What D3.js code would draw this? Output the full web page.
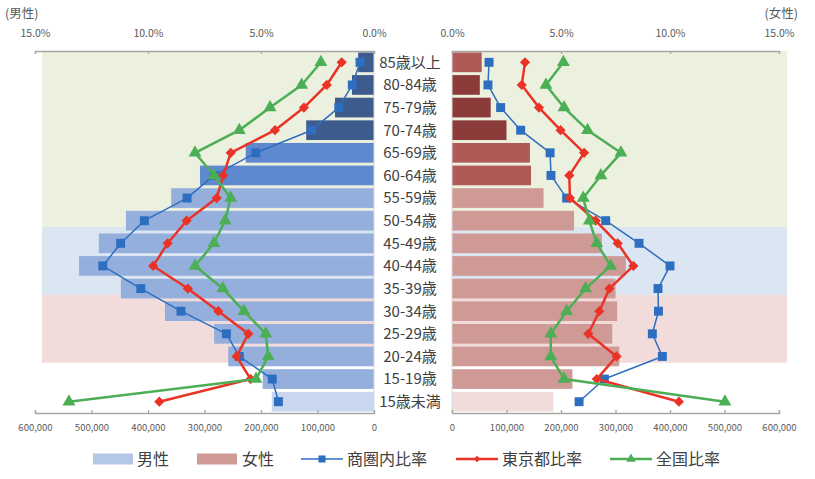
<!DOCTYPE html>
<html>
<head>
<meta charset="utf-8">
<script src="https://cdn.jsdelivr.net/npm/d3@7"></script>
<style>
html,body{margin:0;padding:0;background:#fff;}
svg{display:block;font-family:"Noto Sans CJK JP","Noto Sans",sans-serif;}
</style>
</head>
<body>
<svg id="chart" width="815" height="479"></svg>
<script>
// ---------- data ----------
const categories = ["85歳以上","80-84歳","75-79歳","70-74歳","65-69歳","60-64歳","55-59歳","50-54歳","45-49歳","40-44歳","35-39歳","30-34歳","25-29歳","20-24歳","15-19歳","15歳未満"];
const malePop   = [28000,39000,69000,120000,227000,308000,359000,439000,487000,522000,448000,370000,283000,258000,197000,181000];
const femalePop = [54500,51000,71000,100000,143000,145000,168000,224000,275000,319000,300000,303000,294000,307000,221000,186000];
const maleArea    = [0.62,0.96,1.56,2.76,5.23,7.08,8.27,10.16,11.21,12.0,10.32,8.54,6.53,5.96,4.50,4.23];
const maleTokyo   = [1.43,2.09,3.10,4.38,6.34,6.67,6.96,8.29,9.13,9.77,8.24,6.89,5.56,6.08,5.46,9.50];
const maleJapan   = [2.35,3.20,4.60,5.96,7.92,7.08,6.34,6.59,7.08,7.92,6.69,5.75,4.79,4.68,5.22,13.50];
const femaleArea  = [1.70,1.65,2.23,3.15,4.50,4.54,5.26,7.05,8.58,10.00,9.45,9.47,9.19,9.65,6.99,5.83];
const femaleTokyo = [3.35,3.20,3.99,4.98,6.06,5.38,5.41,6.59,7.60,8.32,7.22,6.76,6.25,7.55,6.64,10.41];
const femaleJapan = [5.11,4.31,5.14,6.22,7.75,6.83,6.02,6.30,6.64,7.28,6.13,5.26,4.53,4.53,5.14,12.52];
const pctTicks = [0,5,10,15];
const popTicks = [0,100000,200000,300000,400000,500000,600000];
const legendLabels = ["男性","女性","商圏内比率","東京都比率","全国比率"];
// background zones: [first category, last category]
const zones = [["85歳以上","50-54歳"],["45-49歳","35-39歳"],["30-34歳","20-24歳"]];

// ---------- styles ----------
const zoneColors = ["#EBF1DE","#DCE6F2","#F2DCDB"];
const maleColor = i => i<=3 ? "#3E5B8E" : i<=5 ? "#5F89CE" : i<=14 ? "#94AFDC" : "#C9D6EE";
const femaleColor = i => i===0 ? "#B05A56" : i<=3 ? "#8B3B3A" : i<=5 ? "#B05A56" : i<=14 ? "#CF9A96" : "#EFDCDB";
const cArea="#2E6EC0", cTokyo="#EA3326", cJapan="#4CAF56";
const axisGray="#A6A6A6", textGray="#595959", labelColor="#404040";

const svg = d3.select("#chart");
const yTop=51, yBot=413;
const y = d3.scaleBand().domain(categories).range([yTop,yBot]).paddingInner(0.13).paddingOuter(0.065);
const yStep = (yBot-yTop)/categories.length;

const xPopL = d3.scaleLinear().domain([0,600000]).range([374,35]);
const xPctL = d3.scaleLinear().domain([0,15]).range([374,35]);
const xPopR = d3.scaleLinear().domain([0,600000]).range([452,779]);
const xPctR = d3.scaleLinear().domain([0,15]).range([452,779]);

// backgrounds
const defs = svg.append("defs");
defs.append("clipPath").attr("id","clipL").append("rect").attr("x",42).attr("y",yTop).attr("width",374-42).attr("height",yBot-yTop);
defs.append("clipPath").attr("id","clipR").append("rect").attr("x",452).attr("y",yTop).attr("width",787-452).attr("height",yBot-yTop);
const zoneShift = -5;
function zoneRects(g){
  zones.forEach((z,k)=>{
    const i0=categories.indexOf(z[0]), i1=categories.indexOf(z[1]);
    const y0 = yTop + i0*yStep + (k===0?0:zoneShift);
    const y1 = yTop + (i1+1)*yStep + zoneShift;
    g.append("rect").attr("x",0).attr("width",815).attr("y",y0).attr("height",y1-y0).attr("fill",zoneColors[k]);
  });
}
zoneRects(svg.append("g").attr("clip-path","url(#clipL)"));
zoneRects(svg.append("g").attr("clip-path","url(#clipR)"));

// bars
svg.append("g").selectAll("rect").data(malePop).join("rect")
  .attr("x",d=>xPopL(d)).attr("width",d=>xPopL(0)-xPopL(d))
  .attr("y",(d,i)=>y(categories[i])).attr("height",y.bandwidth())
  .attr("fill",(d,i)=>maleColor(i));
svg.append("g").selectAll("rect").data(femalePop).join("rect")
  .attr("x",xPopR(0)).attr("width",d=>xPopR(d)-xPopR(0))
  .attr("y",(d,i)=>y(categories[i])).attr("height",y.bandwidth())
  .attr("fill",(d,i)=>femaleColor(i));

// vertical base lines
[374,452].forEach(x=>svg.append("line").attr("x1",x).attr("x2",x).attr("y1",yTop).attr("y2",yBot).attr("stroke","#D9D9D9").attr("stroke-width",1));

// axes
function styleAxis(g){
  g.selectAll(".domain").attr("stroke",axisGray).attr("stroke-width",1.3);
  g.selectAll(".tick line").attr("stroke",axisGray).attr("stroke-width",1.3);
  g.selectAll("text").attr("fill",textGray).attr("font-family","'Noto Sans CJK JP',sans-serif");
}
const fmtPct = d=>d.toFixed(1)+"%";
const fmtPop = d3.format(",");
svg.append("g").attr("transform",`translate(0,${yTop})`)
  .call(d3.axisTop(xPctL).tickValues(pctTicks).tickFormat(fmtPct).tickSizeInner(-3).tickSizeOuter(-3).tickPadding(14))
  .call(g=>{styleAxis(g);g.selectAll("text").attr("font-size",10.5);});
svg.append("g").attr("transform",`translate(0,${yTop})`)
  .call(d3.axisTop(xPctR).tickValues(pctTicks).tickFormat(fmtPct).tickSizeInner(-3).tickSizeOuter(-3).tickPadding(14))
  .call(g=>{styleAxis(g);g.selectAll("text").attr("font-size",10.5);});
svg.append("g").attr("transform",`translate(0,${yBot})`)
  .call(d3.axisBottom(xPopL).tickValues(popTicks).tickFormat(fmtPop).tickSizeInner(-3).tickSizeOuter(-3).tickPadding(11))
  .call(g=>{styleAxis(g);g.selectAll("text").attr("font-size",9.5);});
svg.append("g").attr("transform",`translate(0,${yBot})`)
  .call(d3.axisBottom(xPopR).tickValues(popTicks).tickFormat(fmtPop).tickSizeInner(-3).tickSizeOuter(-3).tickPadding(11))
  .call(g=>{styleAxis(g);g.selectAll("text").attr("font-size",9.5);});

// side titles
svg.append("text").attr("x",5).attr("y",18).attr("font-size",12.5).attr("fill",textGray).text("(男性)");
svg.append("text").attr("x",798).attr("y",18).attr("text-anchor","end").attr("font-size",12.5).attr("fill",textGray).text("(女性)");

// category labels
svg.append("g").selectAll("text").data(categories).join("text")
  .attr("x",410).attr("y",d=>y(d)+y.bandwidth()/2).attr("dy","0.36em")
  .attr("text-anchor","middle").attr("font-size",15).attr("fill",labelColor).text(d=>d);

// lines
const symSquare = d3.symbol().type(d3.symbolSquare).size(80);
const symDiamond = d3.symbol().type(d3.symbolSquare).size(52);
const symTri = d3.symbol().type(d3.symbolTriangle).size(72);
function series(xs, vals, color, width, sym, rot){
  const cy = i => y(categories[i]) + y.bandwidth()/2;
  const line = d3.line().x(d=>xs(d)).y((d,i)=>cy(i));
  svg.append("path").datum(vals).attr("d",line).attr("fill","none").attr("stroke",color).attr("stroke-width",width).attr("stroke-linejoin","round");
  svg.append("g").selectAll("path").data(vals).join("path")
    .attr("transform",(d,i)=>`translate(${xs(d)},${cy(i)}) rotate(${rot||0})`).attr("d",sym).attr("fill",color);
}
series(xPctL, maleArea, cArea, 1.5, symSquare);
series(xPctR, femaleArea, cArea, 1.5, symSquare);
series(xPctL, maleTokyo, cTokyo, 2.5, symDiamond, 45);
series(xPctR, femaleTokyo, cTokyo, 2.5, symDiamond, 45);
series(xPctL, maleJapan, cJapan, 2.5, symTri);
series(xPctR, femaleJapan, cJapan, 2.5, symTri);

// legend
const lg = svg.append("g").attr("font-size",16).attr("fill",labelColor);
const ly = 459;
lg.append("rect").attr("x",93).attr("y",ly-5.5).attr("width",40).attr("height",11).attr("fill","#B4C7E7");
lg.append("text").attr("x",137).attr("y",ly).attr("dy","0.36em").text(legendLabels[0]);
lg.append("rect").attr("x",197).attr("y",ly-5.5).attr("width",40).attr("height",11).attr("fill","#D09B96");
lg.append("text").attr("x",242).attr("y",ly).attr("dy","0.36em").text(legendLabels[1]);
const legLines = [[301,cArea,1.5,d3.symbol().type(d3.symbolSquare).size(50),legendLabels[2],0],
                  [456,cTokyo,2.5,d3.symbol().type(d3.symbolSquare).size(22),legendLabels[3],45],
                  [610,cJapan,2.5,d3.symbol().type(d3.symbolTriangle).size(40),legendLabels[4],0]];
legLines.forEach(([x,c,w,s,t,r])=>{
  lg.append("line").attr("x1",x).attr("x2",x+42).attr("y1",ly).attr("y2",ly).attr("stroke",c).attr("stroke-width",w);
  lg.append("path").attr("transform",`translate(${x+21},${ly}) rotate(${r})`).attr("d",s).attr("fill",c);
  lg.append("text").attr("x",x+46).attr("y",ly).attr("dy","0.36em").text(t);
});
</script>
</body>
</html>
